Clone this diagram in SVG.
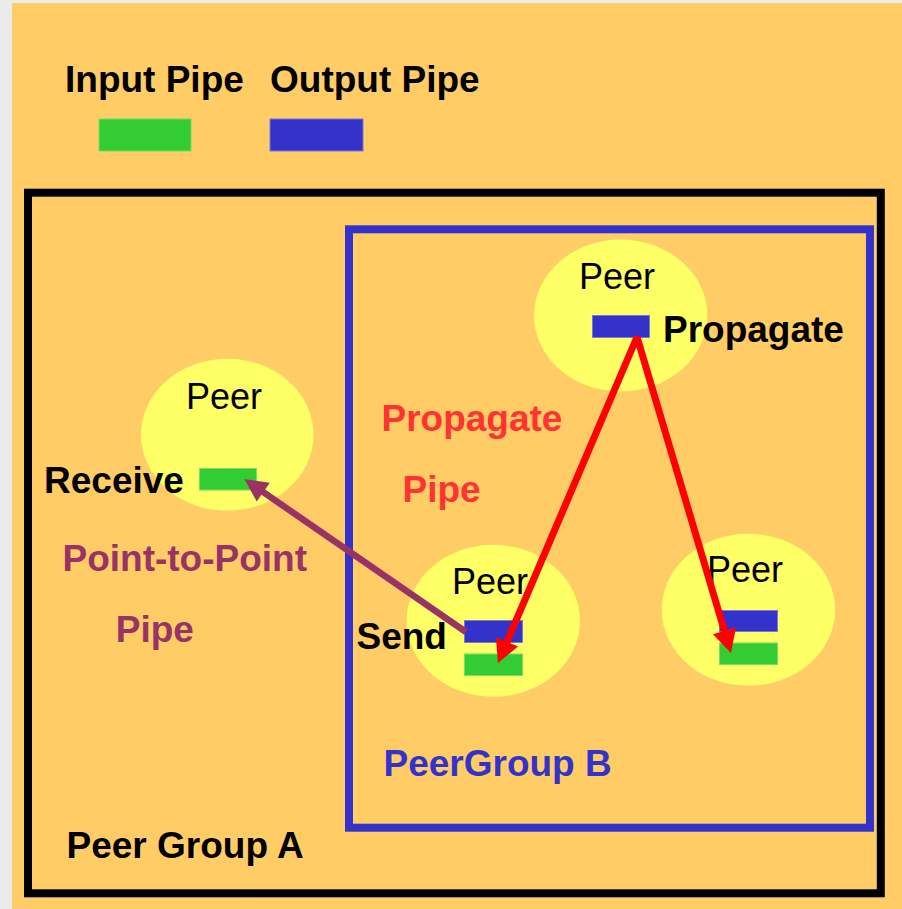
<svg xmlns="http://www.w3.org/2000/svg" width="902" height="909" viewBox="0 0 902 909">
  <style>
    .lbl { font-family: "Liberation Sans", Arial, sans-serif; font-size: 36px; }
    .b { font-weight: bold; font-size: 37px; }
    .peer { fill: #ffff66; }
    .inpipe { fill: #33cc33; stroke: #77dd66; stroke-width: 1; }
    .outpipe { fill: #3333cc; stroke: #7777dd; stroke-width: 1; }
    .group { fill: none; stroke-width: 8; }
  </style>
  <defs>
    <marker id="headRed" markerUnits="userSpaceOnUse" orient="auto-start-reverse" refX="3" refY="0" markerWidth="30" markerHeight="30" overflow="visible">
      <path d="M0,-12 L23,0 L0,12 z" fill="#ff0000"/>
    </marker>
    <marker id="headPurple" markerUnits="userSpaceOnUse" orient="auto" refX="3" refY="0" markerWidth="30" markerHeight="30" overflow="visible">
      <path d="M0,-11.5 L23,0 L0,11.5 z" fill="#993366"/>
    </marker>
  </defs>

  <!-- page -->
  <rect x="0" y="0" width="902" height="909" fill="#ebebeb"/>
  <rect x="12" y="3" width="890" height="906" fill="#ffcc66"/>

  <!-- legend -->
  <g id="legend">
    <text class="lbl b" x="65" y="92">Input Pipe</text>
    <text class="lbl b" x="270" y="92">Output Pipe</text>
    <rect class="inpipe" x="99" y="119" width="92" height="32"/>
    <rect class="outpipe" x="270" y="119" width="93" height="32"/>
  </g>

  <!-- groups -->
  <g id="peer-group-a">
    <rect class="group" stroke="#000000" x="28" y="192.7" width="852.8" height="700.6"/>
    <text class="lbl b" x="66.5" y="858">Peer Group A</text>
  </g>
  <g id="peer-group-b">
    <rect class="group" stroke="#3333cc" x="349" y="229.3" width="521" height="598.4"/>
    <text class="lbl b" x="383.5" y="776" fill="#3333cc">PeerGroup B</text>
  </g>

  <!-- peers -->
  <g id="peer-top">
    <ellipse class="peer" cx="620.7" cy="315.5" rx="86.7" ry="76"/>
    <text class="lbl" x="579" y="289">Peer</text>
    <rect class="outpipe" x="592.5" y="315.5" width="57" height="22"/>
    <text class="lbl b" x="663" y="341.7">Propagate</text>
  </g>
  <g id="peer-left">
    <ellipse class="peer" cx="227.3" cy="434.8" rx="86.3" ry="76"/>
    <text class="lbl" x="186" y="409">Peer</text>
    <rect class="inpipe" x="199.5" y="468.5" width="57" height="21.5"/>
    <text class="lbl b" x="44" y="493.3">Receive</text>
  </g>
  <g id="peer-send">
    <ellipse class="peer" cx="493.3" cy="620.8" rx="86.7" ry="76"/>
    <text class="lbl" x="452" y="594.3">Peer</text>
    <rect class="outpipe" x="464.5" y="620.5" width="58" height="22"/>
    <rect class="inpipe" x="464.5" y="654" width="58" height="21.5"/>
    <text class="lbl b" x="356.5" y="649">Send</text>
  </g>
  <g id="peer-right">
    <ellipse class="peer" cx="748.4" cy="609.7" rx="86.7" ry="76"/>
    <text class="lbl" x="707" y="582.3">Peer</text>
    <rect class="outpipe" x="719.5" y="610.5" width="58" height="21"/>
    <rect class="inpipe" x="719.5" y="643" width="58" height="21.5"/>
  </g>

  <!-- pipe labels -->
  <g id="pipe-labels">
    <text class="lbl b" x="381.5" y="430.7" fill="#ff3333">Propagate</text>
    <text class="lbl b" x="402.5" y="501.7" fill="#ff3333">Pipe</text>
    <text class="lbl b" x="62.5" y="570.7" fill="#993366">Point-to-Point</text>
    <text class="lbl b" x="115.8" y="641.7" fill="#993366">Pipe</text>
  </g>

  <!-- connectors -->
  <g id="connectors" fill="none">
    <path d="M505.8,644.6 L637,337 L725.3,633.8" stroke="#ff0000" stroke-width="7" stroke-linejoin="bevel" marker-start="url(#headRed)" marker-end="url(#headRed)"/>
    <line x1="466" y1="632" x2="260.8" y2="490.4" stroke="#993366" stroke-width="6.5" marker-end="url(#headPurple)"/>
  </g>
</svg>
